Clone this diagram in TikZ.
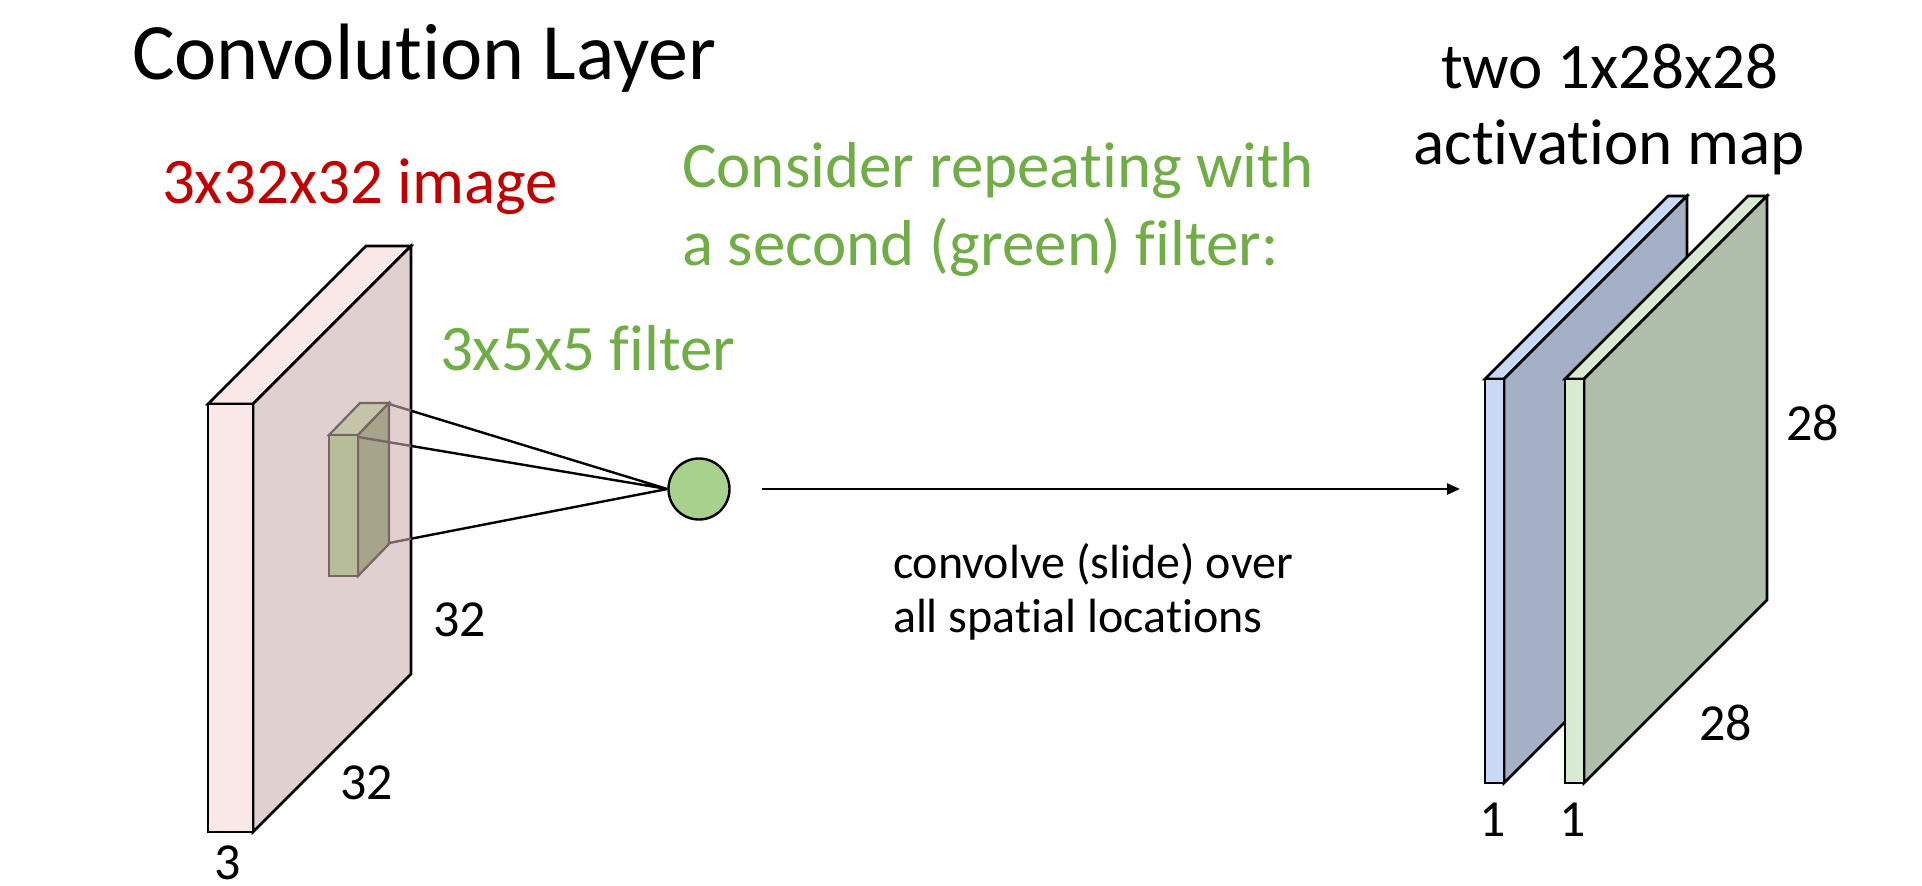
\documentclass[tikz,border=0pt]{standalone}
\usepackage{fontspec}
\setmainfont{Carlito}[Ligatures={NoCommon}]
\usetikzlibrary{arrows.meta}
\definecolor{pinkfront}{RGB}{250,231,231}
\definecolor{pinkside}{RGB}{224,208,208}
\definecolor{filtfront}{RGB}{182,189,152}
\definecolor{filttop}{RGB}{196,196,168}
\definecolor{filtside}{RGB}{166,164,139}
\definecolor{filtline}{RGB}{118,102,102}
\definecolor{neuronfill}{RGB}{169,209,142}
\definecolor{bluefront}{RGB}{199,217,243}
\definecolor{blueside}{RGB}{165,176,199}
\definecolor{greenfront}{RGB}{217,234,211}
\definecolor{greenside}{RGB}{175,190,170}
\definecolor{txtred}{RGB}{192,0,0}
\definecolor{txtgreen}{RGB}{112,173,71}
\tikzset{
  lbl/.style={inner sep=0pt, outer sep=0pt, anchor=base west},
  slabline/.style={draw=black, line width=2.6pt, line join=miter},
  filtface/.style={draw=filtline, line width=2.2pt, line join=miter},
  conn/.style={line width=2.4pt},
  titlefont/.style={font=\fontsize{80}{96}\selectfont},
  bigfont/.style={font=\fontsize{65}{78}\selectfont},
  midfont/.style={font=\fontsize{48}{56}\selectfont},
  numfont/.style={font=\fontsize{52}{60}\selectfont}
}
\begin{document}
\begin{tikzpicture}[x=1pt,y=-1pt]
\useasboundingbox (0,0) rectangle (1922,886);
\fill[white] (0,0) rectangle (1922,886);

% ---- texts
\node[lbl, titlefont] (title) at (132,79) {Convolution Layer};
\node[lbl, bigfont, text=txtred] (imglbl) at (162,203) {3x32x32 image};
\node[lbl, bigfont, text=txtgreen] (cons1) at (682,187) {Consider repeating with};
\node[lbl, bigfont, text=txtgreen] (cons2) at (682,265) {a second (green) filter:};
\node[lbl, bigfont, text=txtgreen] (filtlbl) at (440,370) {3x5x5 filter};
\node[lbl, bigfont, anchor=base] (two1) at (1610,88) {two 1x28x28};
\node[lbl, bigfont, anchor=base] (two2) at (1609,164) {activation map};
\node[lbl, midfont] (conv1) at (893,578) {convolve (slide) over};
\node[lbl, midfont] (conv2) at (893,632) {all spatial locations};
\node[lbl, numfont] (n32a) at (433,636) {32};
\node[lbl, numfont] (n32b) at (340,799) {32};
\node[lbl, numfont] (n3) at (214,879) {3};
\node[lbl, numfont] (n28a) at (1786,440) {28};
\node[lbl, numfont] (n28b) at (1699,740) {28};
\node[lbl, numfont, anchor=base] (n1a) at (1493,836) {1};
\node[lbl, numfont, anchor=base] (n1b) at (1573,836) {1};

% ---- input volume (pink)
\filldraw[slabline, fill=pinkfront] (208,404) -- (366,246) -- (411,246) -- (253,404) -- cycle;
\filldraw[slabline, fill=pinkside] (253,404) -- (411,246) -- (411,674) -- (253,832) -- cycle;
\filldraw[slabline, fill=pinkfront] (208,404) rectangle (253,832);

% ---- filter
\filldraw[filtface, fill=filttop] (329,435) -- (360,403) -- (389,403) -- (358,435) -- cycle;
\filldraw[filtface, fill=filtside] (358,435) -- (389,403) -- (389,544) -- (358,576) -- cycle;
\filldraw[filtface, fill=filtfront] (329,435) rectangle (358,576);
\coordinate (fa) at (389,404);
\coordinate (fb) at (358,437);
\coordinate (fc) at (389,543);

% ---- neuron
\node[circle, draw=black, line width=2.4pt, fill=neuronfill, minimum size=61pt, inner sep=0pt] (neuron) at (699,489) {};

% ---- connections filter -> neuron
\begin{scope}
  \clip (411,300) rectangle (700,700);
  \draw[conn, black] (fa) -- (neuron.west) (fb) -- (neuron.west) (fc) -- (neuron.west);
\end{scope}
\begin{scope}
  \clip (300,300) rectangle (411,700);
  \draw[conn, filtline] (fa) -- (neuron.west) (fb) -- (neuron.west) (fc) -- (neuron.west);
\end{scope}

% ---- output maps
\filldraw[slabline, fill=bluefront] (1485,379) -- (1668,196) -- (1687,196) -- (1504,379) -- cycle;
\filldraw[slabline, fill=blueside] (1504,379) -- (1687,196) -- (1687,600) -- (1504,783) -- cycle;
\filldraw[slabline, fill=bluefront] (1485,379) rectangle (1504,783);
\filldraw[slabline, fill=greenfront] (1565,379) -- (1748,196) -- (1767,196) -- (1584,379) -- cycle;
\filldraw[slabline, fill=greenside] (1584,379) -- (1767,196) -- (1767,600) -- (1584,783) -- cycle;
\filldraw[slabline, fill=greenfront] (1565,379) rectangle (1584,783);
\coordinate (maps) at (1485,489);

% ---- convolve arrow
\draw[line width=2.6pt, -{Triangle[length=13pt,width=11pt]}, shorten <=31pt, shorten >=25pt] (neuron.east) -- (maps);
\end{tikzpicture}
\end{document}
